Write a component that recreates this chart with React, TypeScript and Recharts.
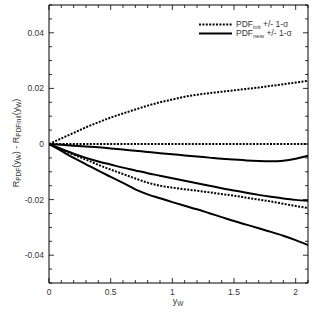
import React from 'react';
import { LineChart, Line, XAxis, YAxis, Legend } from 'recharts';

// y_W grid the curves were read at
const yW = [0, 0.1, 0.2, 0.3, 0.4, 0.5, 0.6, 0.7, 0.8, 0.9, 1.0, 1.1, 1.2, 1.3, 1.4, 1.5, 1.6, 1.7, 1.8, 1.9, 2.0, 2.1];

// PDF_init band (dotted)
const initPlus = [0, 0.002, 0.004, 0.006, 0.0078, 0.0095, 0.011, 0.0124, 0.0138, 0.015, 0.016, 0.017, 0.0177, 0.0183, 0.0188, 0.0193, 0.0198, 0.0203, 0.0209, 0.0215, 0.0221, 0.0227];
const initCentral = [0, 0, 0, 0, 0, 0, 0, 0, 0, 0, 0, 0, 0, 0, 0, 0, 0, 0, 0, 0, 0, 0];
const initMinus = [0, -0.002, -0.0039, -0.0056, -0.0075, -0.0092, -0.0108, -0.0124, -0.0139, -0.015, -0.0157, -0.0163, -0.0168, -0.0174, -0.018, -0.0186, -0.0193, -0.02, -0.0207, -0.0215, -0.0223, -0.023];

// PDF_new band (solid)
const newPlus = [0, -0.0003, -0.0006, -0.0009, -0.0012, -0.0016, -0.002, -0.0024, -0.0029, -0.0033, -0.0037, -0.0041, -0.0045, -0.0049, -0.0053, -0.0056, -0.0059, -0.0061, -0.0062, -0.006, -0.0053, -0.0042];
const newCentral = [0, -0.0018, -0.0035, -0.005, -0.0063, -0.0074, -0.0085, -0.0095, -0.0105, -0.0114, -0.0123, -0.0132, -0.0141, -0.015, -0.0159, -0.0167, -0.0175, -0.0183, -0.019, -0.0196, -0.0201, -0.0204];
const newMinus = [0, -0.0025, -0.005, -0.0073, -0.0096, -0.0118, -0.014, -0.0163, -0.0181, -0.0195, -0.0209, -0.0222, -0.0235, -0.0249, -0.0263, -0.0277, -0.029, -0.0303, -0.0316, -0.033, -0.0346, -0.0364];

const xTicks = [0, 0.1, 0.2, 0.3, 0.4, 0.5, 0.6, 0.7, 0.8, 0.9, 1, 1.1, 1.2, 1.3, 1.4, 1.5, 1.6, 1.7, 1.8, 1.9, 2, 2.1];
const yTicks = [-0.05, -0.045, -0.04, -0.035, -0.03, -0.025, -0.02, -0.015, -0.01, -0.005, 0, 0.005, 0.01, 0.015, 0.02, 0.025, 0.03, 0.035, 0.04, 0.045, 0.05];

const data = yW.map((x, i) => ({
  x,
  initPlus: initPlus[i],
  initCentral: initCentral[i],
  initMinus: initMinus[i],
  newPlus: newPlus[i],
  newCentral: newCentral[i],
  newMinus: newMinus[i],
}));

const FONT = '"Liberation Sans", Arial, sans-serif';
const TEXT = '#333';
const DOTS = '2 1.4';

const isMajor = (v: number, step: number) => Math.abs(v / step - Math.round(v / step)) < 1e-6;

function BottomTick({ x, y, payload }: any) {
  const major = isMajor(payload.value, 0.5);
  return (
    <g>
      <line x1={x} y1={y} x2={x} y2={y - (major ? 5 : 3)} stroke="#000" strokeWidth={0.8} />
      {major && (
        <text x={x} y={y + 12} textAnchor="middle" fontSize={8.5} fontFamily={FONT} fill={TEXT}>
          {String(payload.value)}
        </text>
      )}
    </g>
  );
}

function TopTick({ x, y, payload }: any) {
  const major = isMajor(payload.value, 0.5);
  return <line x1={x} y1={y} x2={x} y2={y + (major ? 5 : 3)} stroke="#000" strokeWidth={0.8} />;
}

function LeftTick({ x, y, payload }: any) {
  const major = isMajor(payload.value, 0.02);
  const v = Math.round(payload.value * 1000) / 1000;
  return (
    <g>
      <line x1={x} y1={y} x2={x + (major ? 5 : 3)} y2={y} stroke="#000" strokeWidth={0.8} />
      {major && (
        <text x={x - 5} y={y + 3} textAnchor="end" fontSize={8.5} fontFamily={FONT} fill={TEXT}>
          {String(v)}
        </text>
      )}
    </g>
  );
}

function RightTick({ x, y, payload }: any) {
  const major = isMajor(payload.value, 0.02);
  return <line x1={x} y1={y} x2={x - (major ? 5 : 3)} y2={y} stroke="#000" strokeWidth={0.8} />;
}

function YTitle() {
  return (
    <text x={19} y={143} transform="rotate(-90 19 143)" textAnchor="middle" fontSize={9} fontFamily={FONT} fill={TEXT}>
      R<tspan dy={2} fontSize={6.5}>PDF</tspan>
      <tspan dy={-2}>(y</tspan>
      <tspan dy={2} fontSize={6.5}>W</tspan>
      <tspan dy={-2}>) - R</tspan>
      <tspan dy={2} fontSize={6.5}>PDFinit</tspan>
      <tspan dy={-2}>(y</tspan>
      <tspan dy={2} fontSize={6.5}>W</tspan>
      <tspan dy={-2}>)</tspan>
    </text>
  );
}

function XTitle() {
  return (
    <text x={178} y={304} textAnchor="middle" fontSize={9} fontFamily={FONT} fill={TEXT}>
      y<tspan dy={2} fontSize={6.5}>W</tspan>
    </text>
  );
}

function LegendBox() {
  const rows = [
    { sub: 'init', dash: DOTS },
    { sub: 'new', dash: undefined },
  ];
  return (
    <div style={{ fontFamily: FONT, fontSize: 8.5, color: TEXT }}>
      {rows.map((r) => (
        <div key={r.sub} style={{ display: 'flex', alignItems: 'center', height: 9 }}>
          <svg width={33} height={9} style={{ marginRight: 4 }}>
            <line x1={0} y1={4.5} x2={33} y2={4.5} stroke="#000" strokeWidth={2} strokeDasharray={r.dash} />
          </svg>
          <span style={{ lineHeight: '9px', whiteSpace: 'nowrap' }}>
            PDF<span style={{ fontSize: 6, position: 'relative', top: 2 }}>{r.sub}</span> +/- 1-σ
          </span>
        </div>
      ))}
    </div>
  );
}

export default function App() {
  return (
    <div style={{ position: 'absolute', left: 0, top: 0, background: '#fff' }}>
      <LineChart width={314} height={313} data={data} margin={{ top: 0, right: 0, left: 0, bottom: 0 }}>
        <XAxis
          dataKey="x"
          type="number"
          domain={[0, 2.1]}
          ticks={xTicks}
          height={30}
          tickSize={0}
          tickMargin={0}
          tickLine={false}
          interval={0}
          allowDataOverflow
          axisLine={{ stroke: '#000', strokeWidth: 1 }}
          tick={<BottomTick />}
          label={<XTitle />}
        />
        <XAxis
          xAxisId="top"
          orientation="top"
          dataKey="x"
          type="number"
          domain={[0, 2.1]}
          ticks={xTicks}
          height={5}
          tickSize={0}
          tickMargin={0}
          tickLine={false}
          interval={0}
          allowDataOverflow
          axisLine={{ stroke: '#000', strokeWidth: 1 }}
          tick={<TopTick />}
        />
        <YAxis
          type="number"
          domain={[-0.05, 0.05]}
          ticks={yTicks}
          width={49}
          tickSize={0}
          tickMargin={0}
          tickLine={false}
          interval={0}
          allowDataOverflow
          axisLine={{ stroke: '#000', strokeWidth: 1 }}
          tick={<LeftTick />}
          label={<YTitle />}
        />
        <YAxis
          yAxisId="right"
          orientation="right"
          type="number"
          domain={[-0.05, 0.05]}
          ticks={yTicks}
          width={6}
          tickSize={0}
          tickMargin={0}
          tickLine={false}
          interval={0}
          allowDataOverflow
          axisLine={{ stroke: '#000', strokeWidth: 1 }}
          tick={<RightTick />}
        />
        <Legend
          layout="vertical"
          verticalAlign="middle"
          align="center"
          wrapperStyle={{ top: 20, left: 199, width: 110 }}
          content={() => <LegendBox />}
        />
        <Line dataKey="initCentral" type="monotone" stroke="#000" strokeWidth={2} strokeDasharray={DOTS} dot={false} isAnimationActive={false} />
        <Line dataKey="initPlus" type="monotone" stroke="#000" strokeWidth={2} strokeDasharray={DOTS} dot={false} isAnimationActive={false} />
        <Line dataKey="initMinus" type="monotone" stroke="#000" strokeWidth={2} strokeDasharray={DOTS} dot={false} isAnimationActive={false} />
        <Line dataKey="newPlus" type="monotone" stroke="#000" strokeWidth={2} dot={false} isAnimationActive={false} />
        <Line dataKey="newCentral" type="monotone" stroke="#000" strokeWidth={2} dot={false} isAnimationActive={false} />
        <Line dataKey="newMinus" type="monotone" stroke="#000" strokeWidth={2} dot={false} isAnimationActive={false} />
      </LineChart>
    </div>
  );
}
